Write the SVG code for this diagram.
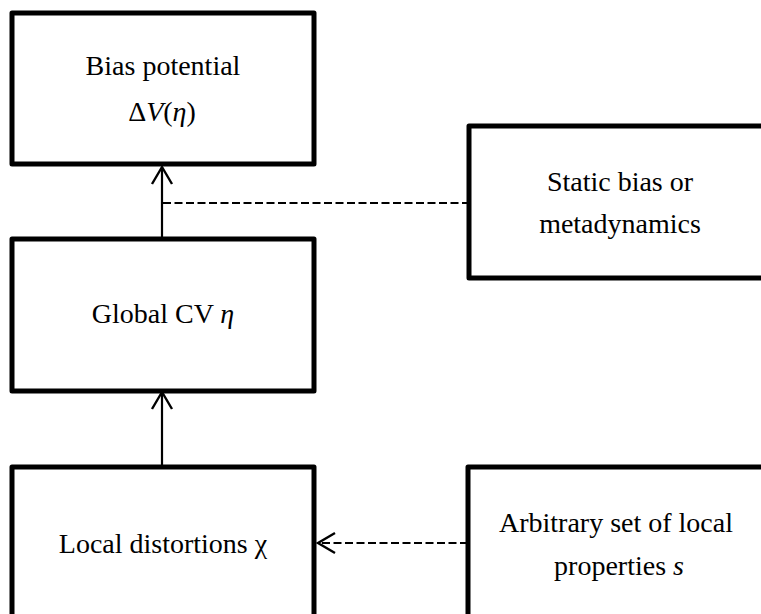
<svg xmlns="http://www.w3.org/2000/svg" width="761" height="614" viewBox="0 0 761 614">
<style>
.box{fill:#fff;stroke:#000;stroke-width:5;stroke-linejoin:round}
.t{font-family:"Liberation Serif","Times New Roman",serif;font-size:28px;fill:#000;text-anchor:middle}
.it{font-style:italic}
.ln{stroke:#000;stroke-width:2.2;fill:none}
.dash{stroke-dasharray:8 3.5}
</style>
<defs>
<marker id="ah" markerUnits="userSpaceOnUse" viewBox="-20 -12 22 24" refX="0" refY="0" markerWidth="22" markerHeight="24" orient="auto" overflow="visible">
<path d="M-17,-10 L0,0 L-17,10" fill="none" stroke="#000" stroke-width="2.4" stroke-dasharray="none"/>
</marker>
</defs>
<rect width="761" height="614" fill="#fff"/>
<g id="connectors">
<line class="ln" x1="162" y1="239" x2="162" y2="167" marker-end="url(#ah)"/>
<line class="ln" x1="162" y1="467" x2="162" y2="392" marker-end="url(#ah)"/>
<line class="ln dash" x1="163" y1="203" x2="469" y2="203"/>
<line class="ln dash" x1="468" y1="543" x2="318" y2="543" marker-end="url(#ah)"/>
</g>
<g id="bias">
<rect class="box" x="12" y="13" width="302" height="151"/>
<text class="t" x="163" y="75">Bias potential</text>
<text class="t" x="162" y="121">Δ<tspan class="it">V</tspan>(<tspan class="it">η</tspan>)</text>
</g>
<g id="global">
<rect class="box" x="12" y="239" width="302" height="152"/>
<text class="t" x="163" y="323">Global CV <tspan class="it">η</tspan></text>
</g>
<g id="local">
<rect class="box" x="12" y="467" width="302" height="152"/>
<text class="t" x="163" y="553">Local distortions χ</text>
</g>
<g id="static">
<rect class="box" x="469" y="126" width="302" height="152"/>
<text class="t" x="620" y="191">Static bias or</text>
<text class="t" x="620" y="233">metadynamics</text>
</g>
<g id="arbitrary">
<rect class="box" x="468" y="467" width="302" height="152"/>
<text class="t" x="616" y="532">Arbitrary set of local</text>
<text class="t" x="619" y="575">properties <tspan class="it">s</tspan></text>
</g>
</svg>
